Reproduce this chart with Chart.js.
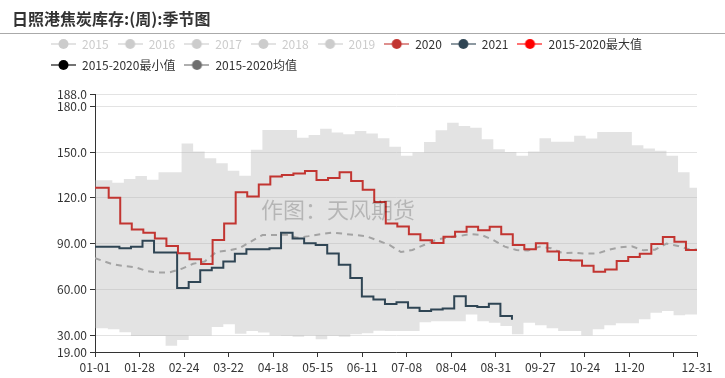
<!DOCTYPE html>
<html>
<head>
<meta charset="utf-8">
<script src="https://cdn.jsdelivr.net/npm/chart.js@4"></script>
<style>
body{margin:0;background:#fff;}
#wrap{position:relative;width:725px;height:378px;}
#title{position:absolute;left:12px;top:6px;font:bold 16px "Noto Sans CJK SC",sans-serif;color:#333;white-space:nowrap;}
#rule{position:absolute;left:0;top:33px;width:725px;height:1px;background:#aaa;}
canvas{position:absolute;left:0;top:0;}
</style>
</head>
<body>
<div id="wrap">
  <canvas id="c" width="725" height="378"></canvas>
  <div id="title">日照港焦炭库存:(周):季节图</div>
  <div id="rule"></div>
</div>
<script>
// weekly values (week 0 = first week of January)
const v2020 = [126.6,120.1,103.2,99.3,97.1,93.4,88.4,83.7,79.8,76.6,92.3,103.2,123.7,120.9,128.7,133.9,
  135.0,136.0,137.6,131.7,133.0,136.7,131.0,125.2,117.2,103.2,101.2,96.2,92.2,90.4,94.5,97.7,101.0,98.8,
  101.0,96.2,89.1,86.3,90.2,84.8,79.2,79.0,75.5,71.6,73.1,78.6,81.3,83.3,89.8,94.3,91.2,85.8];
const v2021 = [88.0,88.0,86.9,88.0,91.9,84.1,84.1,61.0,64.9,72.5,74.2,78.3,83.3,86.3,86.3,86.9,97.1,93.4,
  90.2,89.1,83.5,76.1,67.5,55.3,53.4,50.5,51.6,48.0,45.8,46.9,47.5,55.6,49.1,48.4,50.6,42.5,40.2];
const vMax = [131.5,129.8,132.3,134.3,131.9,136.7,136.7,155.6,150.4,145.9,142.6,137.8,134.5,151.4,164.4,164.4,
  164.4,159.4,161.2,165.3,162.7,161.7,163.8,162.1,159.0,153.4,147.5,149.7,156.6,164.2,169.2,167.0,165.9,158.3,
  151.8,150.0,147.5,150.4,159.0,156.8,156.8,160.6,158.8,163.1,163.1,163.1,154.5,152.3,150.8,147.5,136.7,126.6];
const vMin = [34.5,33.9,32.0,29.4,29.4,29.4,23.1,26.8,29.8,29.8,35.3,37.1,31.0,32.8,31.7,30.0,29.6,29.0,29.8,
  27.4,29.6,29.0,30.6,31.3,33.0,32.8,32.8,32.8,38.5,39.2,39.2,39.2,43.6,39.2,38.2,36.0,30.6,38.2,36.5,34.5,
  32.8,32.8,30.0,33.9,36.5,37.8,37.8,40.4,44.7,45.8,43.0,43.6];
const vMean = [80.5,76.5,75.3,74.5,72.0,71.0,71.2,73.5,76.8,78.3,84.5,85.5,86.9,91.3,95.6,95.6,96.0,93.8,94.9,
  96.2,97.2,96.5,95.6,94.9,92.0,89.1,84.5,85.8,89.1,92.3,94.1,94.9,96.2,95.6,92.3,88.0,85.8,85.5,88.0,87.0,
  83.7,84.0,83.5,83.5,86.0,87.6,88.2,85.6,86.0,90.0,88.5,86.2];

const legendNames = ['2015','2016','2017','2018','2019','2020','2021','2015-2020最大值','2015-2020最小值','2015-2020均值'];
const yTicks = [19,30,60,90,120,150,180,188];
const xTickLabels = ['01-01','01-28','02-24','03-22','04-18','05-15','06-11','07-08','08-04','08-31','09-27','10-24','11-20','12-17','12-31'];

const legendColors = ['#cccccc','#cccccc','#cccccc','#cccccc','#cccccc','#c23531','#2f4554','#ff0000','#000000','#6e6e6e'];
const FONT = '"Noto Sans CJK SC", sans-serif';

// day of year on a 2020 calendar
function dayOf(md) {
  const [m, d] = md.split('-').map(Number);
  return Math.round((new Date(2020, m - 1, d) - new Date(2020, 0, 1)) / 86400000);
}
function labelOf(day) {
  const dt = new Date(2020, 0, 1 + day);
  return String(dt.getMonth() + 1).padStart(2, '0') + '-' + String(dt.getDate()).padStart(2, '0');
}
const xTickDays = xTickLabels.map(dayOf);

// week k is held from its start day up to the next week's start day
function weekly(vals, off, close) {
  const pts = vals.map((v, k) => ({x: k === 0 ? 0 : 7 * k + off, y: v}));
  if (close) pts.push({x: 365, y: vals[vals.length - 1]});
  return pts;
}

function icon(color) {
  const c = document.createElement('canvas');
  c.width = 25; c.height = 14;
  const g = c.getContext('2d');
  g.globalAlpha = 0.55;
  g.strokeStyle = color; g.lineWidth = 2;
  g.beginPath(); g.moveTo(0, 7); g.lineTo(25, 7); g.stroke();
  g.globalAlpha = 1;
  g.fillStyle = color;
  g.beginPath(); g.arc(12.5, 7, 5, 0, Math.PI * 2); g.fill();
  return c;
}
const icons = legendColors.map(icon);

const legendGap = {
  id: 'legendGap',
  beforeLayout(chart) {
    const lg = chart.legend;
    if (lg && !lg._patched) {
      const f = lg.fit;
      lg.fit = function () { f.call(this); this.height += 13; };
      lg._patched = true;
    }
  }
};
const watermark = {
  id: 'watermark',
  afterDatasetsDraw(chart) {
    const ctx = chart.ctx;
    ctx.save();
    ctx.font = '22px ' + FONT;
    ctx.fillStyle = 'rgba(0,0,0,0.2)';
    ctx.textAlign = 'center';
    ctx.textBaseline = 'middle';
    ctx.fillText('作图：天风期货', 338, 210);
    ctx.restore();
  }
};

new Chart(document.getElementById('c'), {
  type: 'line',
  data: {
    datasets: [
      {label: '2020', data: weekly(v2020, 1.3, true), borderColor: '#c23531', borderWidth: 2, stepped: 'before', order: 0},
      {label: '2021', data: weekly(v2021, 0.8, false), borderColor: '#2f4554', borderWidth: 2, stepped: 'before', order: 1},
      {label: '2015-2020最大值', data: weekly(vMax, 3.5, true), borderWidth: 0, borderColor: 'rgba(0,0,0,0)',
        backgroundColor: 'rgba(180,180,180,0.37)', fill: '+1', stepped: 'before', order: 10},
      {label: '2015-2020最小值', data: weekly(vMin, 0.8, true), borderWidth: 0, borderColor: 'rgba(0,0,0,0)',
        stepped: 'before', order: 11},
      {label: '2015-2020均值', data: weekly(vMean, 3.5, true), borderColor: '#a3a3a3', borderWidth: 2,
        borderDash: [6, 5], order: 5}
    ]
  },
  options: {
    responsive: false,
    animation: false,
    layout: {padding: {left: 42, right: 28, top: 29, bottom: 0}},
    elements: {point: {radius: 0}, line: {tension: 0, fill: false}},
    scales: {
      x: {
        type: 'linear', min: 0, max: 365,
        afterBuildTicks: s => { s.ticks = xTickDays.map(v => ({value: v})); },
        afterFit: s => { s.height = 26; },
        ticks: {
          autoSkip: false, maxRotation: 0, padding: 3, color: '#333',
          font: {family: FONT, size: 12},
          callback: v => (v === dayOf('12-17') ? '' : labelOf(v))
        },
        grid: {drawOnChartArea: false, drawTicks: true, tickLength: 5, tickColor: '#333'},
        border: {color: '#333'}
      },
      y: {
        min: 19, max: 188,
        afterBuildTicks: s => { s.ticks = yTicks.map(v => ({value: v})); },
        afterFit: s => { s.width = 53; },
        ticks: {
          autoSkip: false, padding: 3, color: '#333',
          font: {family: FONT, size: 12},
          callback: v => Number(v).toPrecision(4)
        },
        grid: {color: '#e3e3e3', tickLength: 5, tickColor: '#333'},
        border: {color: '#333'}
      }
    },
    plugins: {
      tooltip: {enabled: false},
      legend: {
        position: 'top', align: 'start',
        labels: {
          usePointStyle: true, pointStyleWidth: 25, boxHeight: 12, padding: 9,
          font: {family: FONT, size: 12}, color: '#333',
          generateLabels: () => legendNames.map((t, i) => ({
            text: t, fillStyle: legendColors[i], strokeStyle: legendColors[i], lineWidth: 0,
            pointStyle: icons[i], hidden: false, datasetIndex: i,
            fontColor: i < 5 ? '#cccccc' : '#333'
          }))
        },
        onClick: () => {}
      }
    }
  },
  plugins: [legendGap, watermark]
});
</script>
</body>
</html>
